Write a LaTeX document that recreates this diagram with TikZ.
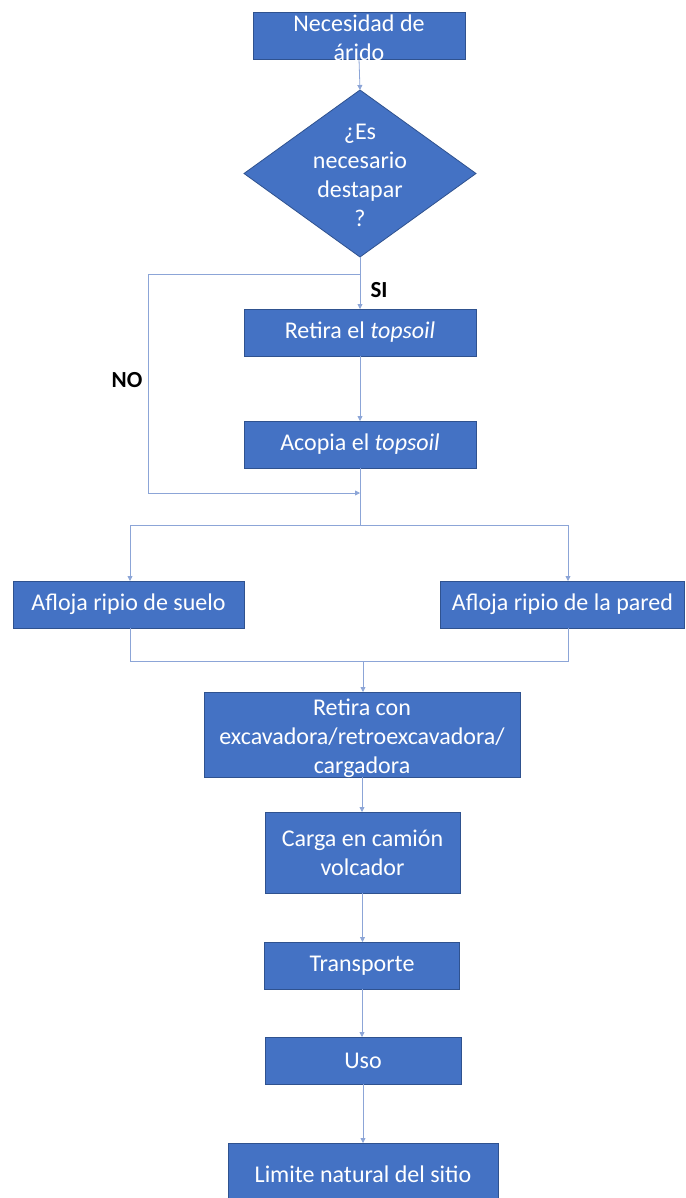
\documentclass[tikz,border=0pt]{standalone}
\usepackage{fontspec}
\setmainfont{Carlito}
\usetikzlibrary{shapes,arrows.meta}
\definecolor{boxblue}{RGB}{68,114,196}
\definecolor{boxedge}{RGB}{47,82,143}
\definecolor{linkblue}{RGB}{140,165,215}
\begin{document}
\begin{tikzpicture}[x=1pt,y=-1pt]
  \tikzset{BoxStyle/.style = {
    shape         = rectangle,
    draw          = boxedge,
    fill          = boxblue,
    line width    = 0.8pt,
    text          = white,
    align         = center,
    inner sep     = 1pt,
    outer sep     = 0pt,
    font          = \fontsize{24}{29}\selectfont
    }
  }
  \tikzset{AskStyle/.style = {
    shape         = diamond,
    draw          = boxedge,
    fill          = boxblue,
    line width    = 0.8pt,
    inner sep     = 0pt,
    outer sep     = 0pt,
    minimum width = 232pt,
    minimum height= 167pt
    }
  }
  \tikzset{InTextStyle/.style = {
    text          = white,
    align         = center,
    inner sep     = 0pt,
    font          = \fontsize{24}{29}\selectfont
    }
  }
  \tikzset{LinkStyle/.style = {
    draw          = linkblue,
    line width    = 0.8pt
    }
  }
  \tikzset{TipStyle/.style = {
    LinkStyle,
    -{Triangle[length=5pt,width=5pt]}
    }
  }
  \tikzset{ChoiceStyle/.style = {
    text          = black,
    inner sep     = 0pt,
    font          = \fontsize{23}{28}\selectfont\bfseries
    }
  }

  \useasboundingbox (0,0) rectangle (685,1198);

	\node[BoxStyle, minimum width=212pt, minimum height=47pt](need) at (359, 35.5) {};
	\node[InTextStyle](needtxt) at (359, 38) {Necesidad de\\árido};
	\node[AskStyle](ask) at (360, 173.5) {};
	\node[InTextStyle](asktxt) at (360, 175) {¿Es\\necesario\\destapar\\?};
	\node[BoxStyle, minimum width=232pt, minimum height=47pt](strip) at (360, 332.5) {Retira el \textit{topsoil}};
	\node[BoxStyle, minimum width=232pt, minimum height=47pt](stock) at (360, 444.5) {Acopia el \textit{topsoil}};
	\node[BoxStyle, minimum width=231pt, minimum height=47pt](floor) at (128.5, 604.5) {Afloja ripio de suelo};
	\node[BoxStyle, minimum width=244pt, minimum height=47pt](wall) at (562.5, 604.5) {Afloja ripio de la pared};
	\node[BoxStyle, minimum width=316pt, minimum height=85pt](dig) at (362, 734.5) {};
	\node[InTextStyle](digtxt) at (362, 738) {Retira con\\excavadora/retroexcavadora/\\cargadora};
	\node[BoxStyle, minimum width=195pt, minimum height=81pt](load) at (362.5, 852.5) {Carga en camión\\volcador};
	\node[BoxStyle, minimum width=195pt, minimum height=47pt](haul) at (362, 965.5) {Transporte};
	\node[BoxStyle, minimum width=196pt, minimum height=47pt](use) at (363, 1060.5) {Uso};
	\node[BoxStyle, minimum width=270pt, minimum height=62pt](edge) at (363, 1174) {Limite natural del sitio};
	\node[ChoiceStyle](yes) at (379, 290) {SI};
	\node[ChoiceStyle](no) at (127, 380) {NO};

	\coordinate (split) at (360, 274);
	\coordinate (noturn) at (148, 274);
	\coordinate (nodown) at (148, 493);
	\coordinate (merge) at (360, 493);
	\coordinate (fork) at (360, 525);
	\coordinate (forkL) at (130, 525);
	\coordinate (forkR) at (568, 525);
	\coordinate (joinL) at (130, 661);
	\coordinate (joinR) at (568, 661);
	\coordinate (join) at (363, 661);

	\draw[TipStyle](need.south) to (ask.north);
	\draw[LinkStyle](ask.south) to (split);
	\draw[TipStyle](split) to (strip.north);
	\draw[LinkStyle](split) -- (noturn) -- (nodown);
	\draw[TipStyle](nodown) to (merge);
	\draw[TipStyle](strip.south) to (stock.north);
	\draw[LinkStyle](stock.south) to (fork);
	\draw[LinkStyle](forkL) to (forkR);
	\draw[TipStyle](forkL) to (forkL |- floor.north);
	\draw[TipStyle](forkR) to (forkR |- wall.north);
	\draw[LinkStyle](joinL |- floor.south) -- (joinL) -- (joinR) -- (joinR |- wall.south);
	\draw[TipStyle](join) to (join |- dig.north);
	\draw[TipStyle](dig.south) to (dig.south |- load.north);
	\draw[TipStyle](load.south) to (load.south |- haul.north);
	\draw[TipStyle](haul.south) to (haul.south |- use.north);
	\draw[TipStyle](use.south) to (use.south |- edge.north);

  \end{tikzpicture}
\end{document}
